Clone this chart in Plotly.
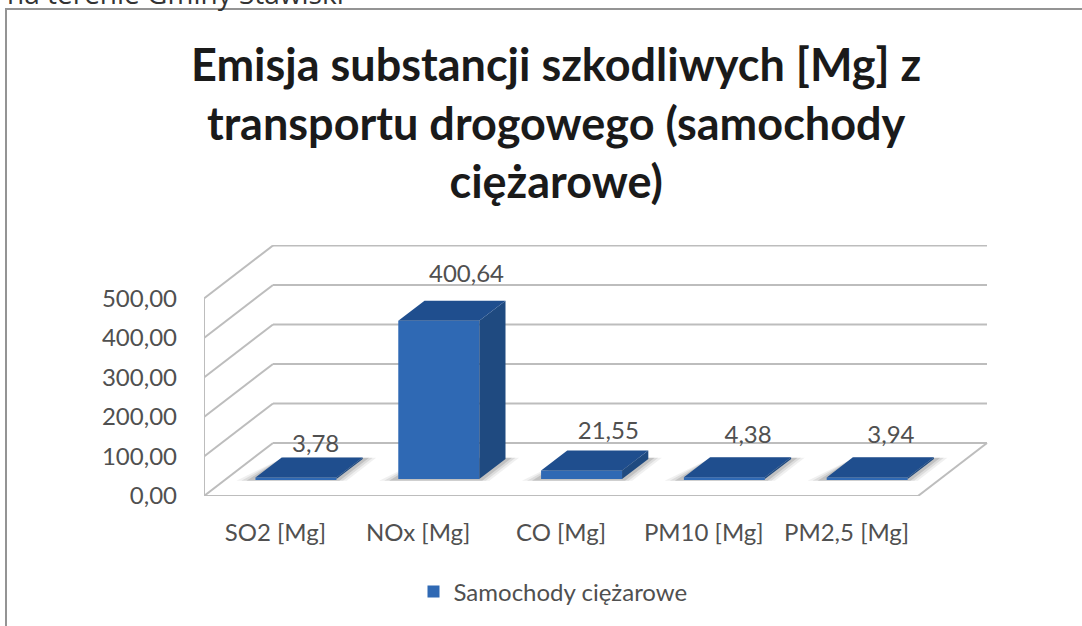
import plotly.graph_objects as go

# ---- data ----
categories = ["SO2 [Mg]", "NOx [Mg]", "CO [Mg]", "PM10 [Mg]", "PM2,5 [Mg]"]
values = [3.78, 400.64, 21.55, 4.38, 3.94]
value_labels = ["3,78", "400,64", "21,55", "4,38", "3,94"]
y_ticks = [0, 100, 200, 300, 400, 500]
y_tick_labels = ["0,00", "100,00", "200,00", "300,00", "400,00", "500,00"]
series_name = "Samochody ciężarowe"
title_lines = ["Emisja substancji szkodliwych [Mg] z",
               "transportu drogowego (samochody",
               "ciężarowe)"]
caption = "na terenie Gminy Stawiski"

# ---- oblique-projection layout (axis units) ----
W, H = 1082, 626
L, R, T, B = 204, 988, 245, 496           # plot-area pixels
PX_PER_CAT = (918 - 204) / 5
PX_PER_VAL = 197.5 / 500
DX = 69 / PX_PER_CAT                       # depth vector, in axis units
DY = 53 / PX_PER_VAL
BAR_W = 81 / PX_PER_CAT
BAR_SHIFT = -1.5 / PX_PER_CAT
D0, D1 = 0.32, 0.70                        # bar footprint in depth
FONT = "Lato"
GRID = "#BDBDBD"
TEXT = "#505050"


def pr(cat, val, d=0.0):
    return cat + d * DX, val + d * DY


def path(points):
    return "M " + " L ".join(f"{x:.4f},{y:.4f}" for x, y in points) + " Z"


def poly(points, color):
    xs = [p[0] for p in points] + [points[0][0]]
    ys = [p[1] for p in points] + [points[0][1]]
    return go.Scatter(x=xs, y=ys, mode="lines", fill="toself", fillcolor=color,
                      line=dict(width=0), showlegend=False, hoverinfo="skip")


fig = go.Figure()
shapes = []


def seg(pts):
    for a, b in zip(pts[:-1], pts[1:]):
        shapes.append(dict(type="line", xref="x", yref="y", x0=a[0], y0=a[1], x1=b[0], y1=b[1],
                           line=dict(color=GRID, width=2), layer="below"))


# walls and floor
for t in y_ticks:
    seg([pr(0, t), pr(0, t, 1), pr(5, t, 1)])
seg([pr(0, 0), pr(5, 0), pr(5, 0, 1)])
seg([pr(0, 0), pr(0, y_ticks[-1])])

# soft floor shadows
for i in range(len(values)):
    c = i + 0.5 + BAR_SHIFT
    for grow, op in [(0.085, 0.09), (0.06, 0.13), (0.035, 0.2)]:
        a, b = c - BAR_W / 2, c + BAR_W / 2 + grow
        shapes.append(dict(type="path", xref="x", yref="y", layer="below",
                           path=path([pr(a - grow * 1.4, 0, D0 - 0.03), pr(b, 0, D0 - 0.03),
                                      pr(b, 0, D1 + 0.02), pr(a, 0, D1 + 0.02)]),
                           fillcolor="#555555", opacity=op, line=dict(width=0)))

# real bars: the front faces
centers = [i + 0.5 + BAR_SHIFT + D0 * DX for i in range(len(values))]
fig.add_trace(go.Bar(x=centers, y=values, base=[D0 * DY] * len(values), width=BAR_W,
                     marker=dict(color="#2F69B4", line=dict(width=0)),
                     name=series_name, showlegend=True, hoverinfo="skip"))

# side and top faces
for i, v in enumerate(values):
    a, b = i + 0.5 + BAR_SHIFT - BAR_W / 2, i + 0.5 + BAR_SHIFT + BAR_W / 2
    fig.add_trace(poly([pr(b, 0, D0), pr(b, 0, D1), pr(b, v, D1), pr(b, v, D0)], "#1F4A80"))
    fig.add_trace(poly([pr(a, v, D0), pr(b, v, D0), pr(b, v, D1), pr(a, v, D1)], "#1F4E8E"))

# value labels: above the back edge of each top face
nudge_px = [-8, 0, -1, -4, -4]
rise_px = [11, 25, 17, 20, 20]
lx, ly = [], []
for i, v in enumerate(values):
    x, y = pr(i + 0.5, v, D1)
    lx.append(x + nudge_px[i] / PX_PER_CAT)
    ly.append(y + rise_px[i] / PX_PER_VAL)
fig.add_trace(go.Scatter(x=lx, y=ly, mode="text", text=value_labels, textposition="middle center",
                         textfont=dict(family=FONT, size=24, color=TEXT),
                         showlegend=False, hoverinfo="skip"))


def px(x):
    return (x - L) / (R - L)


def py(y):
    return (B - y) / (B - T)


shapes.append(dict(type="rect", xref="paper", yref="paper", x0=px(6), x1=px(1095), y0=py(9), y1=py(640),
                   line=dict(color="#949494", width=2), fillcolor="rgba(0,0,0,0)", layer="below"))

fig.update_layout(
    width=W, height=H, autosize=False,
    margin=dict(l=L, r=W - R, t=T, b=H - B),
    paper_bgcolor="white", plot_bgcolor="rgba(0,0,0,0)",
    showlegend=True, barmode="overlay",
    xaxis=dict(range=[0, (R - L) / PX_PER_CAT], showgrid=False, zeroline=False, showline=False,
               tickmode="array", tickvals=[i + 0.5 for i in range(len(categories))],
               ticktext=categories, ticks="", ticklabelstandoff=20,
               tickfont=dict(family=FONT, size=24, color=TEXT)),
    yaxis=dict(range=[0, (B - T) / PX_PER_VAL], showgrid=False, zeroline=False, showline=False,
               tickmode="array", tickvals=y_ticks, ticktext=y_tick_labels, ticks="",
               ticklabelstandoff=26, tickfont=dict(family=FONT, size=24, color=TEXT)),
    legend=dict(x=px(553), y=py(592), xanchor="center", yanchor="middle", orientation="h",
                font=dict(family=FONT, size=24, color=TEXT), bgcolor="rgba(0,0,0,0)"),
    shapes=shapes,
    annotations=[
        dict(text="<br>".join(title_lines), xref="paper", yref="paper", x=px(556), y=py(35),
             xanchor="center", yanchor="top", align="center", showarrow=False,
             font=dict(family=FONT, size=45, color="#1A1A1A", weight="bold")),
        dict(text=caption, xref="paper", yref="paper", x=px(5), y=py(14), xanchor="left",
             yanchor="bottom", showarrow=False, font=dict(family="Open Sans", size=28, color="#333333")),
    ],
)

fig.write_html("out.html", config=dict(displayModeBar=False),
               post_script="document.body.style.margin='0';")
